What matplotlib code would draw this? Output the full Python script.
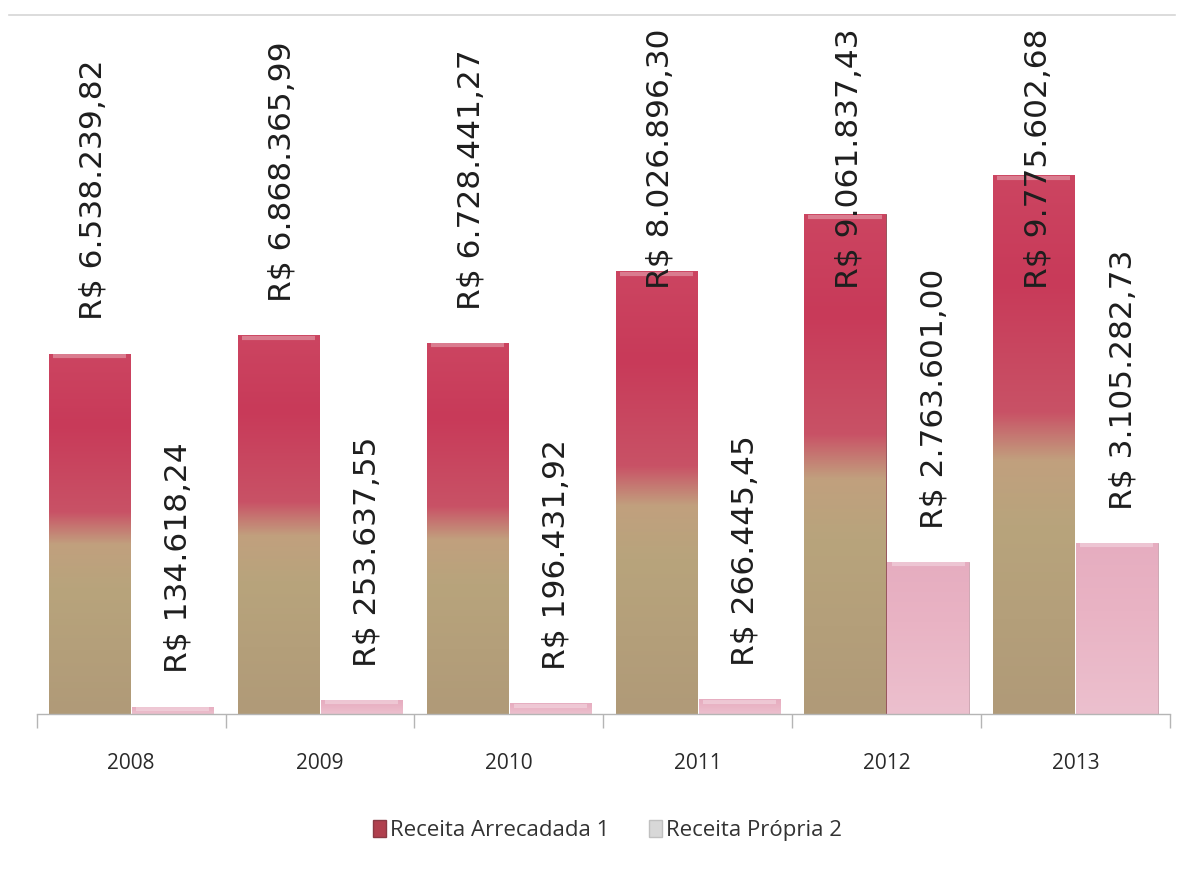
import numpy as np
import matplotlib.pyplot as plt
from matplotlib.colors import LinearSegmentedColormap
from matplotlib.patches import Patch
from matplotlib.lines import Line2D

# ---- data (R$) ----
years = ["2008", "2009", "2010", "2011", "2012", "2013"]
arrecadada = [6538239.82, 6868365.99, 6728441.27, 8026896.30, 9061837.43, 9775602.68]
propria = [134618.24, 253637.55, 196431.92, 266445.45, 2763601.00, 3105282.73]
series_names = ["Receita Arrecadada 1", "Receita Própria 2"]


def brl(v):
    s = f"{v:,.2f}".replace(",", "X").replace(".", ",").replace("X", ".")
    return f"R$ {s}"


plt.rcParams["font.family"] = ["Open Sans", "DejaVu Sans"]
TXT = "#1e1e1e"

fig = plt.figure(figsize=(11.84, 8.76), dpi=100)
ax = fig.add_axes([0.031, 0.185, 0.957, 0.796])

x = np.arange(len(years))
W = 0.43
OFF = 0.22
YMAX = 12.65e6

# gradients for the two series
red_cmap = LinearSegmentedColormap.from_list(
    "red", [(0.0, "#b09a78"), (0.35, "#b8a47c"), (0.47, "#c1a07e"),
            (0.56, "#c95266"), (0.8, "#c83a59"), (1.0, "#cc4561")])
pink_cmap = LinearSegmentedColormap.from_list(
    "pink", [(0.0, "#ecc0ce"), (0.6, "#e9b3c4"), (1.0, "#e6adc0")])
grad = np.linspace(0, 1, 256).reshape(-1, 1)

bars_a = ax.bar(x - OFF, arrecadada, W, color="#c83a59", edgecolor="#8a4a50",
                linewidth=0.6, zorder=2)
bars_p = ax.bar(x + OFF, propria, W, color="#e8b5c6", edgecolor="#c9a0ad",
                linewidth=0.6, zorder=2)

for bars, cmap in ((bars_a, red_cmap), (bars_p, pink_cmap)):
    for b in bars:
        x0, w, h = b.get_x(), b.get_width(), b.get_height()
        im = ax.imshow(grad, cmap=cmap, origin="lower", aspect="auto",
                       extent=[x0, x0 + w, 0, h], zorder=2.5)
        im.set_clip_path(b)
        ax.plot([x0 + w * 0.05, x0 + w * 0.95], [h - YMAX * 0.0035] * 2,
                color="white", alpha=0.3, lw=3, zorder=3, solid_capstyle="butt")

ax.set_xlim(-0.5, len(years) - 0.5)
ax.set_ylim(0, YMAX)

# data labels (capped so they stay inside the plot area)
LBL_GAP = 0.6e6
LBL_CAP = 7.7e6
for xi, v in zip(x, arrecadada):
    ax.text(xi - OFF + 0.02, min(v + LBL_GAP, LBL_CAP), brl(v), rotation=90,
            ha="center", va="bottom", fontsize=22.5, color=TXT, zorder=5,
            family="DejaVu Sans")
for xi, v in zip(x, propria):
    ax.text(xi + OFF + 0.03, min(v + LBL_GAP, LBL_CAP), brl(v), rotation=90,
            ha="center", va="bottom", fontsize=22.5, color=TXT, zorder=5,
            family="DejaVu Sans")

# axes styling
for s in ["top", "right", "left"]:
    ax.spines[s].set_visible(False)
ax.spines["bottom"].set_color("#b5b5b5")
ax.spines["bottom"].set_linewidth(1.0)
ax.set_yticks([])
ax.set_xticks(x)
ax.set_xticklabels(years, fontsize=15, color="#2a2a2a")
ax.tick_params(axis="x", which="major", length=0, pad=28)
ax.set_xticks(np.arange(-0.5, len(years)), minor=True)
ax.tick_params(axis="x", which="minor", length=10, color="#b5b5b5", width=1.0)

# faint chart border at the top
fig.add_artist(Line2D([0.008, 0.992], [0.983, 0.983], color="#d6d6d6", lw=1.2))

handles = [Patch(facecolor="#b0404e", edgecolor="#8a3a44"),
           Patch(facecolor="#d8d8d8", edgecolor="#c0c0c0")]
fig.legend(handles, series_names, loc="center", bbox_to_anchor=(0.513, 0.052),
           ncol=2, frameon=False, fontsize=16, handlelength=0.6,
           handleheight=0.8, handletextpad=0.15, columnspacing=1.8,
           labelcolor="#333333")

fig.savefig("out.png", dpi=100, facecolor="white")
